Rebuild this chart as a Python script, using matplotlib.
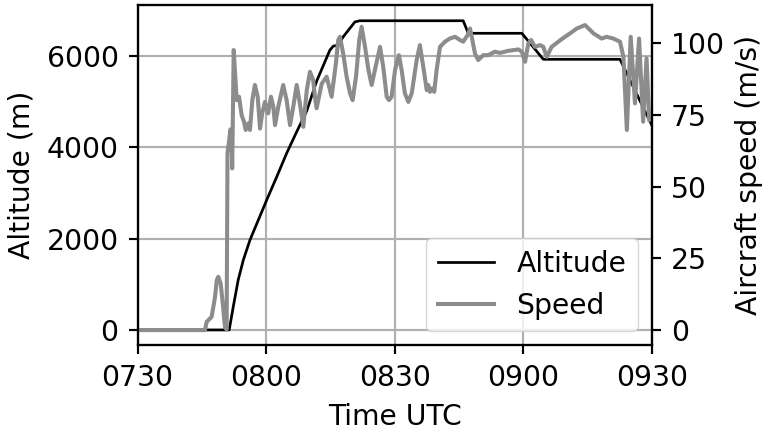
import matplotlib
matplotlib.use("Agg")
import matplotlib.pyplot as plt

# minutes after 07:30 UTC
alt_time = [0, 21.4, 22.35, 23.5, 24.7, 26.25, 28.2, 30.15, 32.5, 34.8,
            37.15, 39.5, 41.8, 44.9, 45.7, 46.85, 48.0, 50.75, 51.9,
            76.0, 77.2, 89.7, 94.7, 112.6, 120]
altitude = [0, 0, 509, 1095, 1533, 1971, 2409, 2847, 3357, 3870,
            4343, 4800, 5450, 6132, 6220, 6240, 6423, 6750, 6775,
            6775, 6500, 6500, 5930, 5930, 4490]

spd_time = [0.0, 15.75, 16.15, 17.3, 18.1, 18.5, 18.85, 19.4, 19.9, 20.4,
            20.8, 21.0, 21.4, 21.7, 21.95, 22.1, 22.45, 23.15, 23.7, 24.3,
            24.85, 25.25, 25.85, 26.25, 26.8, 27.4, 28.05, 28.6, 29.1, 29.75,
            30.5, 31.15, 31.7, 32.1, 32.85, 34.0, 34.8, 35.6, 36.35, 37.15,
            37.9, 38.7, 39.5, 40.25, 41.0, 41.4, 41.8, 43.0, 44.15, 45.3,
            46.3, 46.85, 47.25, 48.0, 48.8, 49.6, 50.2, 51.0, 51.75, 52.3,
            53.1, 53.9, 54.65, 55.4, 56.6, 57.35, 58.15, 58.7, 59.3, 60.1,
            61.0, 61.65, 62.4, 63.2, 64.0, 65.15, 65.9, 66.7, 67.5, 67.85,
            68.25, 68.8, 69.25, 69.8, 70.6, 71.75, 72.9, 74.1, 75.25, 76.0,
            77.05, 77.6, 78.0, 78.75, 79.5, 80.7, 81.85, 83.4, 84.6, 86.5,
            88.9, 89.7, 90.45, 91.2, 91.85, 92.75, 93.95, 94.7, 95.5, 96.65,
            98.2, 99.75, 100.95, 102.5, 104.45, 106.4, 108.3, 109.5, 111.05, 112.6,
            113.4, 114.2, 115.1, 116.1, 117.05, 118.0, 118.8, 119.4, 120.0]
speed = [0, 0, 2.9, 4.6, 11.6, 17.4, 18.6, 16.3, 9.3, 1.2,
         0.2, 61.6, 66.3, 70.0, 68.0, 56.4, 97.7, 80.2, 81.4, 75.0,
         72.7, 69.8, 72.1, 69.8, 80.2, 85.5, 81.4, 70.3, 75.6, 79.6,
         75.6, 81.4, 77.9, 71.5, 77.9, 85.5, 80.2, 71.5, 77.9, 85.5,
         79.0, 70.9, 83.7, 90.1, 87.2, 81.4, 77.4, 86.0, 88.4, 81.4,
         93.0, 101.2, 102.3, 96.5, 88.4, 82.6, 80.2, 88.4, 101.2, 105.8,
         98.8, 90.7, 85.5, 90.7, 98.8, 91.8, 81.4, 80.2, 81.4, 90.7,
         95.9, 90.7, 82.6, 79.6, 82.6, 94.2, 99.4, 91.8, 83.7, 85.5,
         83.1, 84.3, 83.1, 90.7, 98.8, 100.6, 101.7, 102.3, 101.2, 100.6,
         102.9, 105.2, 102.3, 96.5, 94.2, 95.9, 95.9, 97.1, 96.7, 97.4,
         97.9, 97.1, 93.6, 100.0, 101.2, 98.8, 99.4, 98.8, 95.3, 98.8,
         100.6, 102.3, 103.5, 105.2, 106.4, 103.5, 101.7, 102.3, 101.7, 100.6,
         95.3, 69.8, 102.3, 79.1, 101.7, 72.7, 94.8, 73.2, 76.0]

x_ticks = [0, 30, 60, 90, 120]
x_labels = ["0730", "0800", "0830", "0900", "0930"]
alt_ticks = [0, 2000, 4000, 6000]
spd_ticks = [0, 25, 50, 75, 100]

s = 1.95  # scale from a small figure
plt.rcParams.update({
    "font.family": "DejaVu Sans",
    "font.size": 20.3,
    "axes.linewidth": 0.8 * s,
    "xtick.major.size": 3.5 * s,
    "ytick.major.size": 3.5 * s,
    "xtick.major.width": 0.8 * s,
    "ytick.major.width": 0.8 * s,
    "xtick.major.pad": 3.5 * s,
    "ytick.major.pad": 3.5 * s,
    "grid.linewidth": 0.8 * s,
    "axes.labelpad": 4.0 * s,
    "legend.framealpha": 0.8,
})

fig = plt.figure(figsize=(7.66, 4.30), dpi=100)
ax = fig.add_axes([137.5 / 766, 85 / 430, 514.2 / 766, 340 / 430])
ax2 = ax.twinx()

l1, = ax.plot(alt_time, altitude, color="black", lw=1.0 * s, label="Altitude")
l2, = ax2.plot(spd_time, speed, color="#8c8c8c", lw=1.5 * s, label="Speed")

ax.set_xlim(0, 120)
ax.set_xticks(x_ticks)
ax.set_xticklabels(x_labels)
ax.set_ylim(-330, 7120)
ax.set_yticks(alt_ticks)
ax2.set_ylim(-5.2, 113.4)
ax2.set_yticks(spd_ticks)

ax.grid(True)
ax.set_xlabel("Time UTC")
ax.set_ylabel("Altitude (m)")
ax2.set_ylabel("Aircraft speed (m/s)")

ax2.legend([l1, l2], ["Altitude", "Speed"], loc="lower right")

fig.savefig("out.png", dpi=100)
